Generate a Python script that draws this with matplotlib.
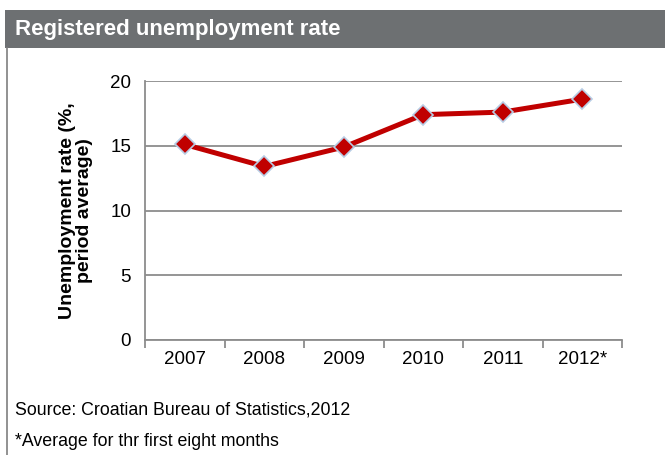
import matplotlib
matplotlib.use("Agg")
import matplotlib.pyplot as plt
from matplotlib.patches import Rectangle
from matplotlib.lines import Line2D

years = ['2007', '2008', '2009', '2010', '2011', '2012*']
rate = [15.1, 13.4, 14.9, 17.4, 17.6, 18.6]
yticks = [0, 5, 10, 15, 20]

title = 'Registered unemployment rate'
ylabel = 'Unemployment rate (%,\nperiod average)'
source = 'Source: Croatian Bureau of Statistics,2012'
note = '*Average for thr first eight months'

plt.rcParams['font.family'] = ['Liberation Sans', 'DejaVu Sans']

fig = plt.figure(figsize=(6.65, 4.55), dpi=100)
W, H = 665, 455

# grey title band and left frame line
fig.patches.append(Rectangle((5 / W, 1 - 48 / H), 1, 38 / H, transform=fig.transFigure,
                             facecolor='#6d7072', edgecolor='none'))
fig.lines.append(Line2D([7 / W, 7 / W], [0, 1 - 48 / H], transform=fig.transFigure,
                        color='#7f7f7f', lw=1.2))
fig.text(15 / W, 1 - 30 / H, title, color='white', fontsize=16, fontweight='bold',
         va='center')

ax = fig.add_axes([145 / W, 1 - 340 / H, 477 / W, 259 / H])
x = range(len(years))
ax.plot(x, rate, color='#c00000', lw=3.6, marker='D', markersize=10,
        markerfacecolor='#c00000', markeredgecolor='#b8cce4', markeredgewidth=1.2,
        zorder=3)

ax.set_xlim(-0.5, len(years) - 0.5)
ax.set_ylim(0, 20)
ax.set_yticks(yticks)
ax.yaxis.grid(True, color='#8c8c8c', lw=1.3)
ax.set_axisbelow(True)
ax.tick_params(axis='y', length=0, labelsize=13.5, pad=10)

ax.set_xticks(x)
ax.set_xticklabels(years, fontsize=13.5)
ax.tick_params(axis='x', length=0, pad=8)
ax.set_xticks([i - 0.5 for i in range(len(years) + 1)], minor=True)
ax.tick_params(axis='x', which='minor', length=6, color='#8c8c8c', width=1.3, direction='out')

for s in ['top', 'right']:
    ax.spines[s].set_visible(False)
for s in ['left', 'bottom']:
    ax.spines[s].set_color('#8c8c8c')
    ax.spines[s].set_linewidth(1.3)

ax.set_ylabel(ylabel, fontsize=14, fontweight='bold', labelpad=12, linespacing=1.05)

fig.text(15 / W, 1 - 410 / H, source, fontsize=12.8, va='center')
fig.text(15 / W, 1 - 442 / H, note, fontsize=12.8, va='center')

fig.savefig('out.png', dpi=100)
